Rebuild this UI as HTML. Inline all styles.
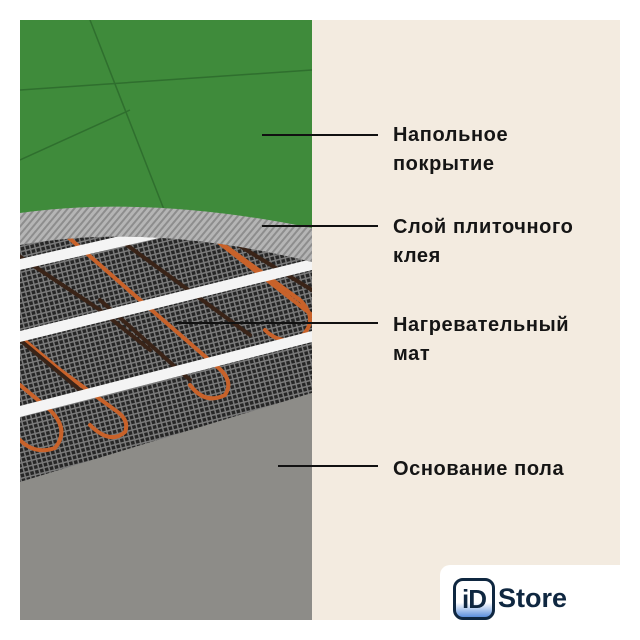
<!DOCTYPE html>
<html><head><meta charset="utf-8"><style>
body{margin:0;width:640px;height:640px;background:#fff;position:relative;overflow:hidden;font-family:"Liberation Sans",sans-serif}
.t{position:absolute;left:393px;font-size:20px;font-weight:bold;color:#151515;line-height:29px;letter-spacing:0.6px}
</style></head><body>
<div style="position:absolute;left:20px;top:20px;width:600px;height:600px;background:#f3ebe0"></div>
<svg style="position:absolute;left:20px;top:20px" width="292" height="600" viewBox="20 20 292 600">
<defs>
<pattern id="mesh" width="5" height="5" patternUnits="userSpaceOnUse" patternTransform="rotate(-14)">
<rect width="5" height="5" fill="#7a7a7a"/><rect width="3.5" height="3.5" fill="#262626"/></pattern>
<pattern id="str" width="5" height="5" patternUnits="userSpaceOnUse" patternTransform="rotate(40)">
<rect width="5" height="5" fill="#b5b5b5"/><rect width="2" height="5" fill="#8d8d8d"/></pattern>
<clipPath id="mc"><path d="M20 245 Q150 222 312 262 L312 393 L20 482 Z"/></clipPath>
</defs>
<rect x="20" y="20" width="292" height="600" fill="#8a8985"/>
<rect x="20" y="20" width="292" height="210" fill="#3f8b3b"/>
<path d="M20 90 L312 70 M90 20 L170 225 M20 160 L130 110" stroke="#2f6f2e" stroke-width="1.5" fill="none"/>
<path d="M20 213 Q150 195 312 228 L312 270 L20 250Z" fill="url(#str)"/>
<path d="M20 245 Q150 222 312 262 L312 393 L20 482 Z" fill="url(#mesh)"/>
<g clip-path="url(#mc)" stroke-width="4" fill="none" stroke-linecap="round">
<g stroke="#c8622a">
<path d="M60 230 L140 300"/><path d="M190 220 L312 315"/><path d="M0 320 L60 370"/>
<path d="M60 370 L115 410 Q130 420 125 432 Q110 445 90 425"/>
<path d="M140 300 L215 365 Q235 380 225 395 Q205 405 190 385"/>
<path d="M210 235 L300 300 Q320 320 300 338 Q280 345 265 330"/>
<path d="M20 385 L50 410 Q70 430 55 448 Q35 455 20 440"/>
</g>
<g stroke="#3a2418">
<path d="M10 250 L100 310 L150 350"/><path d="M120 240 L250 335"/><path d="M230 240 L312 290"/>
<path d="M20 340 L80 390"/><path d="M100 300 L190 380"/>
</g>
</g>
<g fill="#f4f4f4" clip-path="url(#mc)">
<polygon points="20,259 220,213 220,224 20,270"/>
<polygon points="20,331 312,259 312,270 20,342"/>
<polygon points="20,406 312,331 312,342 20,417"/>
</g>
<path d="M20 482 L312 393 L312 620 L20 620Z" fill="#8d8c88"/>
</svg>
<svg style="position:absolute;left:0;top:0" width="640" height="640">
<g stroke="#111" stroke-width="2">
<line x1="262" y1="135" x2="378" y2="135"/><line x1="262" y1="226" x2="378" y2="226"/>
<line x1="175" y1="323" x2="378" y2="323"/><line x1="278" y1="466" x2="378" y2="466"/>
</g></svg>
<div class="t" style="top:121px">Напольное<br>покрытие</div>
<div class="t" style="top:213px">Слой плиточного<br>клея</div>
<div class="t" style="top:311px">Нагревательный<br>мат</div>
<div class="t" style="top:455px">Основание пола</div>
<div style="position:absolute;left:440px;top:565px;width:200px;height:75px;background:#fff;border-top-left-radius:10px"></div>
<div style="position:absolute;left:453px;top:578px;width:42px;height:42px;border:3px solid #0f2740;border-radius:10px;box-sizing:border-box;background:linear-gradient(#fff 60%,#5b8fdc);font-weight:bold;font-size:26px;color:#0f2740;line-height:36px;text-align:center;letter-spacing:-1px">iD</div>
<div style="position:absolute;left:498px;top:583px;font-size:27px;font-weight:bold;color:#0f2740">Store</div>
</body></html>
